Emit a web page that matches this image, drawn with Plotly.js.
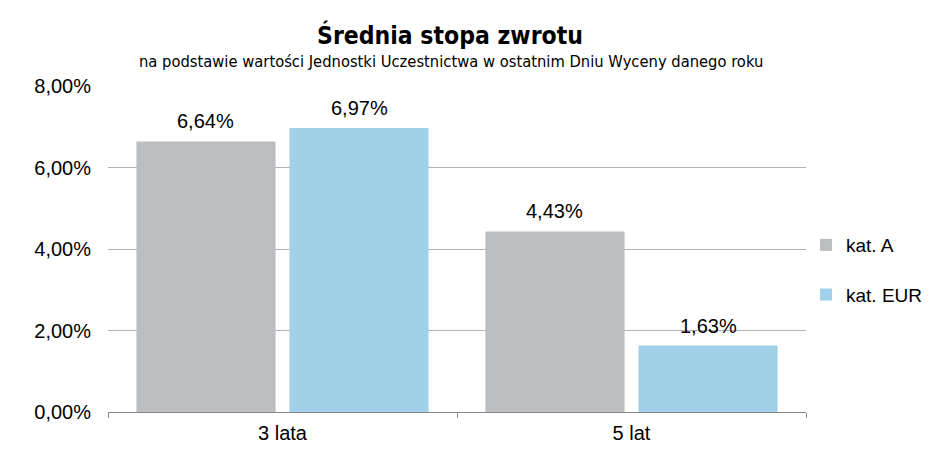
<!DOCTYPE html>
<html>
<head>
<meta charset="utf-8">
<script src="https://cdn.plot.ly/plotly-3.0.1.min.js"></script>
<style>html,body{margin:0;padding:0;background:#fff;}#chart{width:944px;height:469px;}</style>
</head>
<body>
<div id="chart"></div>
<script>
const categories = ["3 lata", "5 lat"];
const seriesNames = ["kat. A", "kat. EUR"];
const katA = [6.64, 4.43];
const katEUR = [6.97, 1.63];
const yTicks = [0, 2, 4, 6, 8];
const yTickText = ["0,00%", "2,00%", "4,00%", "6,00%", "8,00%"];

const colors = ["#BCBDC1", "#A0D1E9"];
const FONT = "Liberation Sans, Arial, sans-serif";
const labelFont = {family: FONT, size: 20, color: "#000"};
const legendFont = {family: FONT, size: 19, color: "#000"};

const series = [katA, katEUR];
const traces = series.map((vals, i) => ({
  type: "bar",
  name: seriesNames[i],
  x: categories,
  y: vals,
  marker: {color: colors[i]},
  legendgroup: "g" + i,
  offsetgroup: "o" + i,
  hoverinfo: "skip"
}));

// data labels placed via the axes, above each bar
const bargap = 0.123, bargroupgap = 0.091;
const slot = (1 - bargap) / 2;
const annotations = [];
series.forEach((vals, i) => {
  vals.forEach((v, j) => {
    annotations.push({
      xref: "x", yref: "y",
      x: j - (1 - bargap) / 2 + slot * (i + 0.5),
      y: v,
      text: v.toFixed(2).replace(".", ",") + "%",
      showarrow: false, yanchor: "bottom", xanchor: "center",
      yshift: 7,
      font: labelFont
    });
  });
});
annotations.push({
  text: "na podstawie wartości Jednostki Uczestnictwa w ostatnim Dniu Wyceny danego roku",
  xref: "paper", yref: "paper", x: (452 - 108) / 700, y: 1.0 + (86 - 62) / 326,
  xanchor: "center", yanchor: "middle", showarrow: false,
  font: {family: "Liberation Sans Narrow, DejaVu Sans Condensed, Arial Narrow, sans-serif", size: 16.4, color: "#000"}
});

const layout = {
  width: 944, height: 469,
  margin: {l: 108, r: 136, t: 86, b: 57},
  paper_bgcolor: "#fff", plot_bgcolor: "#fff",
  separators: ",.",
  barmode: "group",
  bargap: bargap,
  bargroupgap: bargroupgap,
  showlegend: true,
  legend: {
    xref: "container", yref: "container",
    x: 806 / 944, xanchor: "left", y: 1 - 270 / 469, yanchor: "middle",
    traceorder: "grouped", tracegroupgap: 22,
    font: legendFont,
    itemwidth: 30
  },
  title: {
    text: "<b>Średnia stopa zwrotu</b>",
    font: {family: "Liberation Sans Narrow, DejaVu Sans Condensed, Arial Narrow, sans-serif", size: 24.5, color: "#000"},
    x: (451 - 108) / 700, xanchor: "center", xref: "paper",
    y: 1 - 35 / 469, yanchor: "middle", yref: "container"
  },
  annotations: annotations,
  xaxis: {
    type: "category",
    range: [-0.5, 1.5],
    showline: true, linecolor: "#888", linewidth: 1,
    ticks: "outside", tickson: "boundaries", ticklen: 5, tickcolor: "#888",
    tickfont: labelFont, ticklabelstandoff: 3,
    showgrid: false, fixedrange: true
  },
  yaxis: {
    range: [0, 8], tickvals: yTicks, ticktext: yTickText,
    showgrid: true, gridcolor: "#B3B3B3", gridwidth: 1,
    zeroline: false, showline: false, ticks: "",
    tickfont: labelFont, ticklabelstandoff: 16, fixedrange: true
  }
};

Plotly.newPlot("chart", traces, layout, {displayModeBar: false, staticPlot: true});
</script>
</body>
</html>
